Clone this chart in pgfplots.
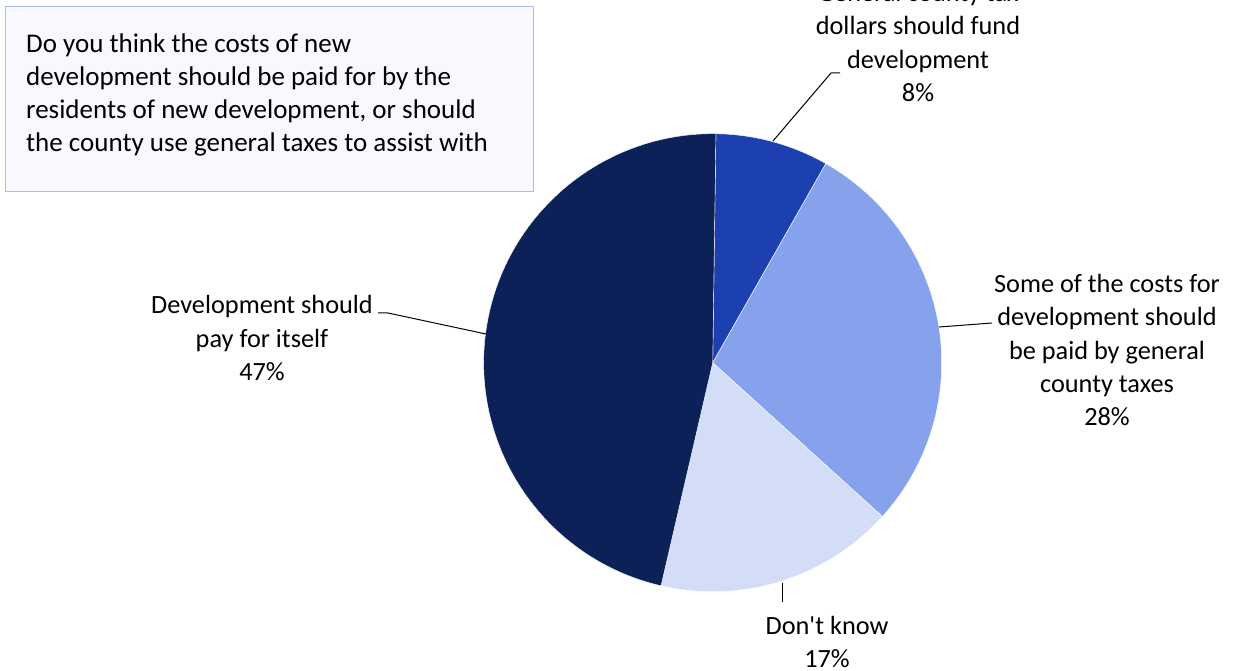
\documentclass[border=0pt]{standalone}
\usepackage{pgfplots}
\pgfplotsset{compat=1.18}
\usepackage{fontspec}
\setmainfont{Carlito}
\definecolor{sA}{HTML}{1C40B0}
\definecolor{sB}{HTML}{87A2EC}
\definecolor{sC}{HTML}{D4DDF7}
\definecolor{sD}{HTML}{0C2158}
\definecolor{boxfill}{HTML}{F7F9FE}
\definecolor{boxline}{HTML}{A9BCF3}
\begin{document}
\begin{tikzpicture}
\begin{axis}[
  scale only axis, width=1236pt, height=670pt,
  xmin=0, xmax=1236, ymin=0, ymax=670,
  hide axis, clip=false,
]
% text box
\draw[boxline, fill=boxfill, line width=1pt] (axis cs:5,663) rectangle (axis cs:533,478);
\node[anchor=west, align=left, font=\fontsize{27}{33.2}\selectfont, inner sep=0pt] at (axis cs:26,575)
 {Do you think the costs of new\\development should be paid for by the\\residents of new development, or should\\the county use general taxes to assist with};
% pie: shares 8.0, 28.5, 16.9, 46.6 percent, clockwise from the top
\coordinate (O) at (axis cs:712.7,307.3);
\fill[sA, draw=white, line width=0.4pt] (O) -- ++(89.2:229pt) arc[start angle=89.2, end angle={89.2-3.6*8.0}, radius=229pt] -- cycle;
\fill[sB, draw=white, line width=0.4pt] (O) -- ++({89.2-3.6*8.0}:229pt) arc[start angle={89.2-3.6*8.0}, end angle={89.2-3.6*36.5}, radius=229pt] -- cycle;
\fill[sC, draw=white, line width=0.4pt] (O) -- ++({89.2-3.6*36.5}:229pt) arc[start angle={89.2-3.6*36.5}, end angle={89.2-3.6*53.4}, radius=229pt] -- cycle;
\fill[sD, draw=white, line width=0.4pt] (O) -- ++({89.2-3.6*53.4}:229pt) arc[start angle={89.2-3.6*53.4}, end angle={89.2-3.6*100}, radius=229pt] -- cycle;
% leader lines
\draw[black, line width=1pt] (axis cs:773,529) -- (axis cs:831,597) -- (axis cs:840,597);
\draw[black, line width=1pt] (axis cs:939,343) -- (axis cs:992,347);
\draw[black, line width=1pt] (axis cs:486,336) -- (axis cs:388,357) -- (axis cs:378,357);
\draw[black, line width=1pt] (axis cs:782,87) -- (axis cs:782,68);
% labels
\node[align=center, font=\fontsize{26.3}{33.3}\selectfont, inner sep=0pt] at (axis cs:918,627.5)
 {General county tax\\dollars should fund\\development\\8\%};
\node[align=center, font=\fontsize{26.3}{33.3}\selectfont, inner sep=0pt] at (axis cs:1107,320)
 {Some of the costs for\\development should\\be paid by general\\county taxes\\28\%};
\node[align=center, font=\fontsize{26.3}{33.3}\selectfont, inner sep=0pt] at (axis cs:262,332)
 {Development should\\pay for itself\\47\%};
\node[align=center, font=\fontsize{26.3}{33.3}\selectfont, inner sep=0pt] at (axis cs:827,28)
 {Don\textquotesingle t know\\17\%};
\coordinate (SW) at (axis cs:0,0);
\coordinate (NE) at (axis cs:1236,670);
\end{axis}
\pgfresetboundingbox
\useasboundingbox (SW) rectangle (NE);
\end{tikzpicture}
\end{document}
